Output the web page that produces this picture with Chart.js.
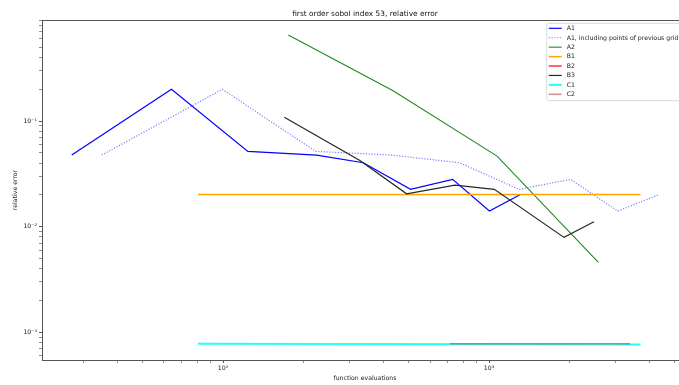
<!DOCTYPE html>
<html lang="en">
<head>
<meta charset="UTF-8">
<title>first order sobol index 53, relative error</title>
<script src="https://cdn.jsdelivr.net/npm/chart.js@4.4.0/dist/chart.umd.min.js"></script>
<style>
  html, body { margin: 0; padding: 0; background: #fff; overflow: hidden; }
  canvas { display: block; }
</style>
</head>
<body>
<canvas id="chart" width="700" height="385"></canvas>
<script>
// function evaluations (x) and relative error (y)
const a1X = [27, 64, 124, 225, 337, 507, 730, 1003, 1313];
const a1Y = [0.0476, 0.1996, 0.0516, 0.0476, 0.0403, 0.02255, 0.02805, 0.01405, 0.02014];
const a1PrevX = [35, 99.4, 223, 432, 775, 1297, 2028, 3047, 4357];
const a1PrevY = [0.0476, 0.1996, 0.0516, 0.0476, 0.0403, 0.02255, 0.02805, 0.01405, 0.02014];
const a2X = [176, 436, 1072, 2578];
const a2Y = [0.652, 0.1936, 0.0466, 0.00459];
const b1X = [80.5, 3715];
const b1Y = [0.0202, 0.0202];
const b2X = [];
const b2Y = [];
const b3X = [170, 327, 490, 745, 1047, 1914, 2481];
const b3Y = [0.1084, 0.0423, 0.02045, 0.02477, 0.02255, 0.00792, 0.01113];
const c1X = [80.5, 3715];
const c1Y = [0.00078, 0.000765];
const c2X = [713, 3388];
const c2Y = [0.00078, 0.00078];

const seriesNames = ['A1', 'A1, including points of previous grid', 'A2', 'B1', 'B2', 'B3', 'C1', 'C2'];
const xTickValues = [100, 1000];
const xTickLabels = ['10\u00b2', '10\u00b3'];
const yTickValues = [0.001, 0.01, 0.1];
const yTickLabels = ['10\u207b\u00b3', '10\u207b\u00b2', '10\u207b\u00b9'];

const titleText = 'first order sobol index 53, relative error';
const FONT = '"DejaVu Sans", sans-serif';

function pts(xs, ys) {
    return xs.map((x, i) => ({ x: x, y: ys[i] }));
}

// styles per series (color, width, dash)
const styles = [
    { c: '#0000ff', w: 1.2, d: [] },
    { c: 'rgba(40,40,255,0.6)', w: 1.2, d: [1.2, 1.6] },
    { c: '#1f8a1f', w: 1.1, d: [] },
    { c: '#ffa500', w: 1.5, d: [] },
    { c: '#ff0000', w: 1.2, d: [] },
    { c: '#262626', w: 1.2, d: [] },
    { c: '#22ffff', w: 2, d: [] },
    { c: 'rgba(165,60,60,0.55)', w: 1.6, d: [] }
];
const seriesData = [
    pts(a1X, a1Y), pts(a1PrevX, a1PrevY), pts(a2X, a2Y), pts(b1X, b1Y),
    pts(b2X, b2Y), pts(b3X, b3Y), pts(c1X, c1Y), pts(c2X, c2Y)
];

const datasets = seriesNames.map((name, i) => ({
    label: name,
    data: seriesData[i],
    borderColor: styles[i].c,
    backgroundColor: styles[i].c,
    borderWidth: styles[i].w,
    borderDash: styles[i].d,
    pointRadius: 0,
    tension: 0,
    fill: false,
    order: seriesNames.length - i   // later series on top, like matplotlib
}));

function labelFor(v, values, labels) {
    for (let i = 0; i < values.length; i++) {
        if (Math.abs(v / values[i] - 1) < 1e-6) return labels[i];
    }
    return '';
}
function isNice(v) {
    const sig = v / Math.pow(10, Math.floor(Math.log10(v) + 1e-9));
    return Math.abs(sig - Math.round(sig)) < 1e-6;
}
function isDecade(v) {
    const e = Math.log10(v);
    return Math.abs(e - Math.round(e)) < 1e-6;
}

const gridOpts = {
    drawOnChartArea: false,
    drawTicks: true,
    tickLength: 3,
    tickColor: ctx => (ctx.tick && isNice(ctx.tick.value)) ? '#444' : 'rgba(0,0,0,0)',
    tickWidth: ctx => (ctx.tick && isDecade(ctx.tick.value)) ? 0.9 : 0.6
};

// title, axes frame and legend box drawn like the matplotlib figure
const frameAndLegend = {
    id: 'frameAndLegend',
    afterDraw(chart) {
        const ctx = chart.ctx;
        const a = chart.chartArea;
        ctx.save();
        ctx.fillStyle = '#111';
        ctx.font = '7.4px ' + FONT;
        ctx.textAlign = 'center';
        ctx.textBaseline = 'middle';
        ctx.fillText(titleText, (a.left + a.right) / 2, 14);

        ctx.strokeStyle = '#555';
        ctx.lineWidth = 1;
        ctx.strokeRect(Math.round(a.left) + 0.5, Math.round(a.top) + 0.5,
            Math.round(a.right - a.left), Math.round(a.bottom - a.top));

        const lx = a.right - 141.3, ly = a.top + 3.3;
        ctx.beginPath();
        ctx.roundRect(lx, ly, 150, 77.4, 2);
        ctx.fillStyle = 'rgba(255,255,255,0.85)';
        ctx.fill();
        ctx.strokeStyle = '#d0d0d0';
        ctx.lineWidth = 0.8;
        ctx.stroke();

        ctx.font = '6.2px ' + FONT;
        ctx.textAlign = 'left';
        ctx.textBaseline = 'middle';
        chart.data.datasets.forEach((ds, i) => {
            const y = ly + 5 + i * 9.43;
            ctx.beginPath();
            ctx.setLineDash(ds.borderDash);
            ctx.strokeStyle = ds.borderColor;
            ctx.lineWidth = ds.borderWidth;
            ctx.moveTo(lx + 2, y);
            ctx.lineTo(lx + 15, y);
            ctx.stroke();
            ctx.setLineDash([]);
            ctx.fillStyle = '#222';
            ctx.fillText(ds.label, lx + 20, y + 0.3);
        });
        ctx.restore();
    }
};

Chart.defaults.font.family = FONT;
Chart.defaults.color = '#222';

new Chart(document.getElementById('chart'), {
    type: 'line',
    data: { datasets: datasets },
    options: {
        responsive: false,
        animation: false,
        devicePixelRatio: 1,
        layout: { padding: { top: 20, right: 12, left: 0, bottom: 0 } },
        plugins: {
            legend: { display: false },
            title: { display: false },
            tooltip: { enabled: false }
        },
        scales: {
            x: {
                type: 'logarithmic',
                min: 20.87,
                max: 5598,
                border: { display: false },
                grid: gridOpts,
                afterFit: s => { s.height = 25; },
                ticks: {
                    autoSkip: false,
                    maxRotation: 0,
                    padding: 2,
                    font: { size: 6.2 },
                    callback: v => labelFor(v, xTickValues, xTickLabels)
                },
                title: {
                    display: true,
                    text: 'function evaluations',
                    font: { size: 6.2 },
                    padding: { top: 0, bottom: 3.3 }
                }
            },
            y: {
                type: 'logarithmic',
                min: 0.000547,
                max: 0.9045,
                border: { display: false },
                grid: gridOpts,
                afterFit: s => { s.width = 42; },
                ticks: {
                    autoSkip: false,
                    padding: 2,
                    font: { size: 6.2 },
                    callback: v => labelFor(v, yTickValues, yTickLabels)
                },
                title: {
                    display: true,
                    text: 'relative error',
                    font: { size: 6.2 },
                    padding: { top: 11.8, bottom: 0 }
                }
            }
        }
    },
    plugins: [frameAndLegend]
});
</script>
</body>
</html>
